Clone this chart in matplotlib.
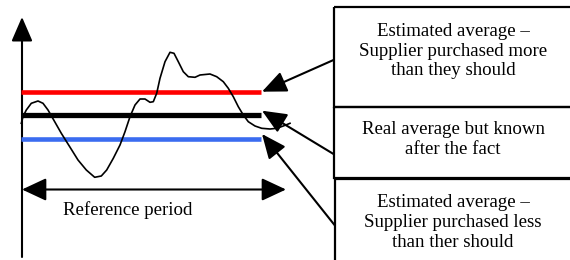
"""
Estimated vs real average over a reference period (diagram)
"""

import matplotlib
matplotlib.use("Agg")
import matplotlib.pyplot as plt
from matplotlib.patches import Rectangle, FancyArrowPatch

# Curve (x, y in picture pixels, y down)
curve_x = [21.3, 23, 26.3, 31.3, 38, 43, 48, 54.7, 61.3, 69.7, 78, 86.3, 94.7,
           101.3, 106.7, 113.3, 120, 125, 130, 135, 140, 145, 150, 153.3,
           156.7, 160, 165, 170, 174, 178.3, 183.3, 188.3, 195, 200, 210,
           216.7, 223.3, 228.3, 233.3, 238.3, 243.3, 248.3, 255, 261.7, 270,
           276.7, 283.3, 290]
curve_y = [123.3, 116.7, 110, 103.3, 101, 103.3, 110, 121.7, 133.3, 146.7, 160,
           170, 177.3, 176, 170, 158.3, 145, 131.7, 116.7, 105, 99, 99, 102.3,
           101.7, 93.3, 78.3, 61.7, 52.3, 53.3, 61.7, 71.7, 76.7, 77.3, 75,
           74, 76.7, 81.7, 88.3, 96.7, 106.7, 115, 121.7, 126, 128.3, 129,
           128.3, 126, 123.3]

# Average levels
level_names = ["estimated high", "real", "estimated low"]
level_y = [91.7, 115, 139.3]
level_colors = ["#ff0000", "#000000", "#3b6cf0"]

# Annotation boxes: labels, text centre y, box top / bottom, arrow tips
box_labels = ["Estimated average \u2013\nSupplier purchased more\nthan they should",
              "Real average but known\nafter the fact",
              "Estimated average \u2013\nSupplier purchased less\nthan ther should"]
box_text_y = [51, 139.5, 222.5]
box_top = [7, 107, 179]
box_bottom = [107, 178, 300]
arrow_start_y = [60, 154, 225]
arrow_tip = [(262, 91.7), (262, 110.7), (262, 134)]

period_label = "Reference period"

fig = plt.figure(figsize=(5.7, 2.6), dpi=100)
ax = fig.add_axes([0, 0, 1, 1])
ax.set_xlim(0, 570)
ax.set_ylim(260, 0)
ax.axis("off")

font = {"family": "Liberation Serif", "size": 13.6}


def arrow(p0, p1, lw=1.5):
    a = FancyArrowPatch(p0, p1, arrowstyle="-|>,head_length=15,head_width=6.5",
                        mutation_scale=1, color="black", lw=lw,
                        shrinkA=0, shrinkB=0)
    ax.add_patch(a)


# Vertical axis
arrow((22, 257), (22, 17))

# Average lines
for y, c in zip(level_y, level_colors):
    ax.plot([21, 261], [y, y], color=c, lw=3.3 if c != "#000000" else 3.8,
            solid_capstyle="butt")

# Curve
ax.plot(curve_x, curve_y, color="black", lw=1.2, solid_joinstyle="round")

# Reference period double arrow
a = FancyArrowPatch((22, 189.5), (286, 189.5),
                    arrowstyle="<|-|>,head_length=15,head_width=7",
                    mutation_scale=1, color="black", lw=1.5, shrinkA=0, shrinkB=0)
ax.add_patch(a)
ax.text(128, 210, period_label, ha="center", va="center", **font)

# Boxes with labels and arrows
for i, label in enumerate(box_labels):
    left = 333.5 if i < 2 else 334.5
    ax.add_patch(Rectangle((left, box_top[i]), 300, box_bottom[i] - box_top[i],
                           fill=False, ec="black", lw=1.6))
    ax.text(453, box_text_y[i], label, ha="center", va="center",
            linespacing=1.2, **font)
    arrow((left, arrow_start_y[i]), arrow_tip[i])

fig.savefig("out.png", dpi=100)
